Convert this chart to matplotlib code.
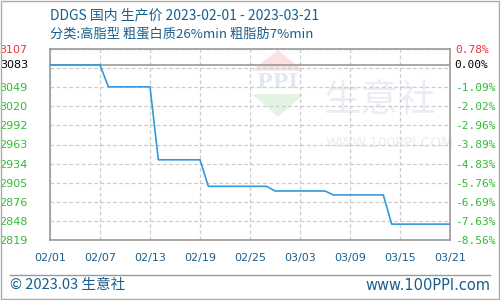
import matplotlib
matplotlib.use("Agg")
import matplotlib.pyplot as plt
import matplotlib.dates as mdates
from matplotlib.patches import Rectangle, Polygon
from matplotlib.lines import Line2D
import numpy as np
import datetime

plt.rcParams['font.family'] = ['Noto Sans CJK SC', 'DejaVu Sans']

# price knots (daily data, straight segments between them)
dates = ["2023-02-01", "2023-02-07", "2023-02-08", "2023-02-13", "2023-02-14",
         "2023-02-19", "2023-02-20", "2023-02-27", "2023-02-28", "2023-03-06",
         "2023-03-07", "2023-03-13", "2023-03-14", "2023-03-21"]
prices = [3083, 3083, 3050, 3050, 2940, 2940, 2900, 2900, 2893, 2893,
          2887, 2887, 2843, 2843]

base_price = 3083
y_min, y_max = 2819.1, 3107.05
left_labels = ["2819", "2848", "2876", "2905", "2934", "2963", "2992",
               "3020", "3049", "", "3107"]
right_labels = ["-8.56%", "-7.63%", "-6.69%", "-5.76%", "-4.83%", "-3.89%",
                "-2.96%", "-2.02%", "-1.09%", "", "0.78%"]

title1 = "DDGS 国内 生产价 2023-02-01 - 2023-03-21"
title2 = "分类:高脂型 粗蛋白质26%min 粗脂肪7%min"

blue_txt = '#1a5e8c'
green = '#33bb33'
red = '#ee3333'

x = [datetime.datetime.strptime(d, "%Y-%m-%d") for d in dates]
start = datetime.datetime(2023, 2, 1)
end = datetime.datetime(2023, 3, 21)

fig = plt.figure(figsize=(5, 3), dpi=100)
ax = fig.add_axes([50/500, 1-240/300, 400/500, 191/300])

# watermark
ax.text(0.685, 0.73, "生意社", transform=ax.transAxes, fontsize=27,
        color='#eaedf4', ha='left', va='center', zorder=0)
ax.text(0.69, 0.51, "WWW.100PPI.COM", transform=ax.transAxes, fontsize=10,
        color='#ececec', ha='left', va='center', family='DejaVu Sans', zorder=0)
ax.add_patch(Polygon([[0.51, 0.89], [0.63, 0.89], [0.57, 0.99]], closed=True,
                     transform=ax.transAxes, color='#fae2e2', zorder=0))
ax.add_patch(Polygon([[0.51, 0.76], [0.63, 0.76], [0.57, 0.65]], closed=True,
                     transform=ax.transAxes, color='#e2f3e4', zorder=0))
ax.text(0.57, 0.825, "PPI", transform=ax.transAxes, fontsize=15,
        color='#e2e7f2', ha='center', va='center', family='DejaVu Serif',
        fontweight='bold', zorder=0)

ticks = np.linspace(y_min, y_max, 11)
ax.set_xlim(start, end)
ax.set_ylim(y_min, y_max)
ax.set_yticks(ticks)
ax.set_yticklabels(left_labels)
ax.set_xticks([start + datetime.timedelta(days=6*i) for i in range(9)])
ax.xaxis.set_major_formatter(mdates.DateFormatter("%m/%d"))
ax.grid(True, color='#cccccc', linestyle=(0, (3, 2)), linewidth=0.9)
ax.tick_params(axis='y', length=0, pad=16, labelsize=8, labelcolor=green)
ax.tick_params(axis='x', length=0, pad=9, labelsize=8, labelcolor=blue_txt)
for t in ax.get_yticklabels():
    t.set_family('DejaVu Sans')
ax.get_yticklabels()[-1].set_color(red)
for lab in ax.get_xticklabels():
    lab.set_family('DejaVu Sans')

ax.axhline(base_price, color='#999999', linewidth=1.2, zorder=2)
ax.text(-0.055, (base_price - y_min)/(y_max - y_min), str(base_price),
        transform=ax.transAxes, ha='right', va='center', fontsize=8,
        color='black', family='DejaVu Sans')

ax.plot(x, prices, color='#3399dd', linewidth=1.2, zorder=3)

for s in ax.spines.values():
    s.set_color('#999999')
    s.set_linewidth(1.2)

ax2 = ax.twinx()
ax2.set_ylim(y_min, y_max)
ax2.set_yticks(ticks)
ax2.set_yticklabels(right_labels)
ax2.tick_params(axis='y', length=0, pad=4, labelsize=8, labelcolor=green)
for t in ax2.get_yticklabels():
    t.set_family('DejaVu Sans Mono')
ax2.get_yticklabels()[-1].set_color(red)
ax2.text(1.01, (base_price - y_min)/(y_max - y_min), "0.00%",
         transform=ax.transAxes, ha='left', va='center', fontsize=8,
         color='black', family='DejaVu Sans Mono')
for s in ax2.spines.values():
    s.set_visible(False)

fig.text(50/500, 1-15/300, title1, fontsize=10, color=blue_txt, va='center')
fig.text(50/500, 1-35/300, title2, fontsize=9.5, color=blue_txt, va='center')

fig.add_artist(Line2D([10/500, 490/500], [1-275/300, 1-275/300],
                      color='#999999', linewidth=1))
fig.text(10/500, 1-285/300, "© 2023.03 生意社", fontsize=10.5,
         color=blue_txt, va='center')
fig.text(490/500, 1-285/300, "www.100PPI.com", fontsize=10.5,
         color=blue_txt, va='center', ha='right', family='DejaVu Sans')
fig.add_artist(Rectangle((0.002, 0.003), 0.995, 0.994, fill=False,
                         edgecolor='#aaaaaa', linewidth=1,
                         transform=fig.transFigure))

fig.savefig("out.png", dpi=100)
